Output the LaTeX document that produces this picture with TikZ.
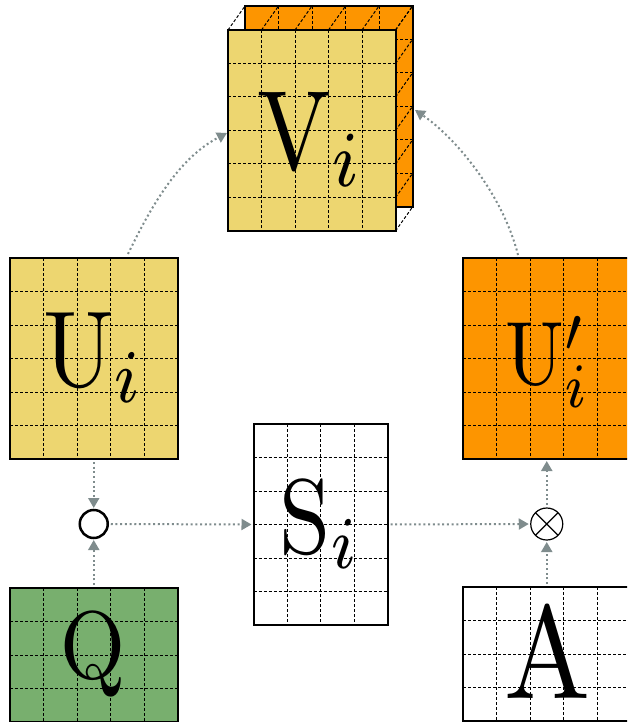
\documentclass[tikz,border=0pt]{standalone}
\usepackage{graphicx}
\usetikzlibrary{arrows.meta,calc}
\definecolor{boxyellow}{HTML}{EDD670}
\definecolor{boxorange}{HTML}{FD9500}
\definecolor{boxgreen}{HTML}{78AF6E}
\definecolor{conngray}{HTML}{7F8C8D}
\tikzset{
  gbox/.style={draw=black, line width=2pt, inner sep=0pt, outer sep=0pt, rectangle},
  gridline/.style={black, line width=1pt, dash pattern=on 3pt off 2pt},
  conn/.style={draw=conngray, line width=2pt, dash pattern=on 2pt off 2.7pt,
    -{Triangle[length=10pt,width=11pt]}, shorten <=3pt, shorten >=2pt},
  lbl/.style={inner sep=0pt, outer sep=0pt, anchor=base},
  opcirc/.style={draw=black, circle, inner sep=0pt, outer sep=0pt, fill=white}
}
% #1 name, #2 left x, #3 top y, #4 cols, #5 rows, #6 fill
\newcommand{\mygridbox}[6]{%
  \pgfmathsetmacro\mybw{#4*33.5}%
  \pgfmathsetmacro\mybh{#5*33.5}%
  \node[gbox, fill=#6, minimum width=\mybw pt, minimum height=\mybh pt, anchor=north west] (#1) at (#2,#3) {};
  \pgfmathtruncatemacro\mycolsm{#4-1}%
  \pgfmathtruncatemacro\myrowsm{#5-1}%
  \foreach \k in {1,...,\mycolsm}
    \draw[gridline] ($(#1.north west)+(\k*33.5,0)$) -- ($(#1.south west)+(\k*33.5,0)$);
  \foreach \k in {1,...,\myrowsm}
    \draw[gridline] ($(#1.north west)+(0,\k*33.5)$) -- ($(#1.north east)+(0,\k*33.5)$);
}
% #1 horizontal factor, #2 vertical factor, #3 content (set at 10pt)
\newcommand{\mybig}[3]{\scalebox{#1}[#2]{#3}}
\begin{document}
\begin{tikzpicture}[x=1pt,y=-1pt]
\useasboundingbox (0,0) rectangle (627,722);
\clip (0,0) rectangle (627,722);

% V_i tensor: back face
\mygridbox{Vb}{245}{6}{5}{6}{boxorange}
% front face
\mygridbox{Vf}{228}{30}{5}{6}{boxyellow}
\foreach \k in {0,...,5}
  \draw[gridline] ($(Vf.north west)+(\k*33.5,0)$) -- ($(Vb.north west)+(\k*33.5,0)$);
\foreach \k in {0,...,6}
  \draw[gridline] ($(Vf.north east)+(0,\k*33.5)$) -- ($(Vb.north east)+(0,\k*33.5)$);
\node[lbl] (tV) at (311,170) {\mybig{9.831}{11.3}{$\mathrm{V}_i$}};

% U_i
\mygridbox{U}{10}{258}{5}{6}{boxyellow}
\node[lbl] (tU) at (94,386) {\mybig{9.396}{10.8}{$\mathrm{U}_i$}};

% U'_i
\mygridbox{Up}{463}{258}{5}{6}{boxorange}
\node[lbl] (tUp) at (548,384) {\mybig{7.83}{9.0}{$\mathrm{U}'_i$}};

% S_i
\mygridbox{S}{253.5}{424}{4}{6}{white}
\node[lbl] (tS) at (320,553) {\mybig{9.222}{10.6}{$\mathrm{S}_i$}};

% Q
\mygridbox{Q}{10}{588}{5}{4}{boxgreen}
\node[lbl] (tQ) at (92.5,678) {\mybig{8.352}{9.6}{$\mathrm{Q}$}};

% A
\mygridbox{A}{463}{587}{5}{4}{white}
\node[lbl] (tA) at (547.5,698) {\mybig{11.484}{13.2}{$\mathrm{A}$}};

% operators
\node[opcirc, line width=2.5pt, minimum size=28pt] (had) at (93.75,524) {};
\node[opcirc, line width=1.2pt, minimum size=32pt] (ot) at (546.75,524) {};
\draw[line width=1.2pt] (ot.45) -- (ot.225) (ot.135) -- (ot.315);

% connectors
\draw[conn] (U.south) -- (had.north);
\draw[conn] (Q.north) -- (had.south);
\draw[conn] (had.east) -- (S.west);
\draw[conn] (S.east) -- (ot.west);
\draw[conn] (A.north) -- (ot.south);
\draw[conn] (ot.north) -- (Up.south);

\coordinate (cs1) at ($(U.north)+(34.25,-4)$);
\coordinate (ce1) at ($(Vf.west)+(-1,2.5)$);
\draw[conn, shorten <=0pt, shorten >=0pt] (cs1) .. controls (154,200) and (181,157) .. (ce1);

\coordinate (cs2) at ($(Up.north)+(-28.75,-3)$);
\coordinate (ce2) at ($(Vb.east)+(2.5,3.5)$);
\draw[conn, shorten <=0pt, shorten >=0pt] (cs2) .. controls (503,195) and (456,138) .. (ce2);
\end{tikzpicture}
\end{document}
